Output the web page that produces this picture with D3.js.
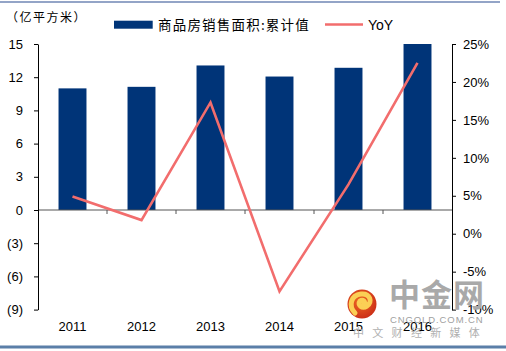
<!DOCTYPE html>
<html><head><meta charset="utf-8">
<script src="https://cdn.jsdelivr.net/npm/d3@7"></script>
<style>
html,body{margin:0;padding:0;background:#fff;}
svg{display:block;}
text{font-family:"Liberation Sans",Arial,sans-serif;}
.cjk{font-family:"Noto Sans CJK SC",sans-serif;}
</style></head>
<body>
<svg id="c" width="506" height="351"></svg>
<script>
const years = ["2011","2012","2013","2014","2015","2016"];
const area = [10.99, 11.13, 13.06, 12.06, 12.85, 15.73];
const yoy = [4.9, 1.8, 17.3, -7.6, 6.5, 22.5];
const leftTicks = [-9,-6,-3,0,3,6,9,12,15];
const rightTicks = [-10,-5,0,5,10,15,20,25];
const seriesNames = ["商品房销售面积:累计值","YoY"];
const unitLabel = "（亿平方米）";

const svg = d3.select("#c");
const L = 38, R = 452, T = 44, B = 309.6;
const barColor = "#003478", lineColor = "#F26D6D";

const x = d3.scaleBand().domain(years).range([L,R]).paddingInner(0).paddingOuter(0);
const yL = d3.scaleLinear().domain([-9,15]).range([B,T]);
const yR = d3.scaleLinear().domain([-10,25]).range([B,T]);

// borders
svg.append("line").attr("x1",0).attr("x2",500).attr("y1",2).attr("y2",2).attr("stroke","#6f86b4").attr("stroke-width",1.5);
svg.append("line").attr("x1",0).attr("x2",506).attr("y1",347).attr("y2",347).attr("stroke","#5b7fa8").attr("stroke-width",3);

const defs = svg.append("defs");
defs.append("clipPath").attr("id","plot").append("rect").attr("x",L).attr("y",T).attr("width",R-L).attr("height",B-T);

// bars
const bw = x.bandwidth()*0.405;
svg.append("g").attr("clip-path","url(#plot)").selectAll("rect").data(years).join("rect")
  .attr("x",(d)=>x(d)+x.bandwidth()/2-bw/2)
  .attr("width",bw)
  .attr("y",(d,i)=>yL(Math.max(0,area[i])))
  .attr("height",(d,i)=>Math.abs(yL(area[i])-yL(0)))
  .attr("fill",barColor);

// zero line
svg.append("line").attr("x1",L).attr("x2",R).attr("y1",yL(0)).attr("y2",yL(0)).attr("stroke","#555").attr("stroke-width",1);
// category ticks at band boundaries
svg.append("g").selectAll("line").data(years.slice(1)).join("line")
  .attr("x1",d=>x(d)).attr("x2",d=>x(d)).attr("y1",yL(0)).attr("y2",yL(0)+4).attr("stroke","#555");

// left axis
const ga = svg.append("g").attr("transform",`translate(${L},0)`)
  .call(d3.axisLeft(yL).tickValues(leftTicks).tickSize(4).tickPadding(11).tickSizeOuter(0)
    .tickFormat(d=> d<0 ? `(${-d})` : `${d}`));
ga.select(".domain").attr("stroke","#000");
ga.selectAll(".tick line").attr("stroke","#000");
ga.selectAll("text").attr("font-size",13).attr("fill","#000").attr("font-family","Liberation Sans, Arial, sans-serif");

// right axis
const gr = svg.append("g").attr("transform",`translate(${R},0)`)
  .call(d3.axisRight(yR).tickValues(rightTicks).tickSize(4).tickPadding(7).tickSizeOuter(0)
    .tickFormat(d=>`${d}%`));
gr.select(".domain").attr("stroke","#000");
gr.selectAll(".tick line").attr("stroke","#000");
gr.selectAll("text").attr("font-size",13).attr("fill","#000").attr("font-family","Liberation Sans, Arial, sans-serif");

// line
const line = d3.line().x((d,i)=>x(years[i])+x.bandwidth()/2).y(d=>yR(d));
svg.append("path").datum(yoy).attr("d",line).attr("fill","none").attr("stroke",lineColor).attr("stroke-width",2.6).attr("stroke-linejoin","miter");

// year labels
svg.append("g").selectAll("text").data(years).join("text")
  .attr("x",d=>x(d)+x.bandwidth()/2).attr("y",331).attr("text-anchor","middle")
  .attr("font-size",13).attr("fill","#000").text(d=>d);

// unit label
svg.append("text").attr("class","cjk").attr("x",6).attr("y",22).attr("font-size",12).attr("letter-spacing",1.5).attr("fill","#000").text(unitLabel);

// legend
svg.append("rect").attr("x",114).attr("y",20.7).attr("width",38.7).attr("height",8).attr("fill",barColor);
svg.append("text").attr("class","cjk").attr("x",158).attr("y",30).attr("font-size",13.5).attr("letter-spacing",1.2).attr("fill","#000").text(seriesNames[0]);
svg.append("line").attr("x1",325).attr("x2",363).attr("y1",24.5).attr("y2",24.5).attr("stroke",lineColor).attr("stroke-width",2.6);
svg.append("text").attr("x",368).attr("y",30).attr("font-size",14).attr("fill","#000").text(seriesNames[1]);

// watermark
const wm = svg.append("g");
const grad = defs.append("radialGradient").attr("id","lg").attr("cx","45%").attr("cy","40%").attr("r","60%");
grad.append("stop").attr("offset","0%").attr("stop-color","#ef6a22");
grad.append("stop").attr("offset","100%").attr("stop-color","#cc2f18");
wm.append("circle").attr("cx",362).attr("cy",304).attr("r",14.5).attr("fill","url(#lg)");
wm.append("path").attr("d","M355,313 C348,306 351,295 361,294 C370,293 373,302 367,306 C362,309 357,305 360,301 C363,299 366,302 364,304")
  .attr("fill","none").attr("stroke","#fbcf55").attr("stroke-width",5).attr("stroke-linecap","round");
wm.append("text").attr("class","cjk").attr("x",389).attr("y",306).attr("font-size",31).attr("font-weight",700).attr("fill","#a9a9a9").attr("letter-spacing",1).text("中金网");
wm.append("text").attr("x",390).attr("y",323).attr("font-size",9.5).attr("fill","#a0a0a0").attr("letter-spacing",0.9).text("CNGOLD.COM.CN");
wm.append("text").attr("class","cjk").attr("x",353).attr("y",337).attr("font-size",11).attr("fill","#b0b0b0").attr("letter-spacing",8.3).text("中文财经新媒体");
</script>
</body></html>
